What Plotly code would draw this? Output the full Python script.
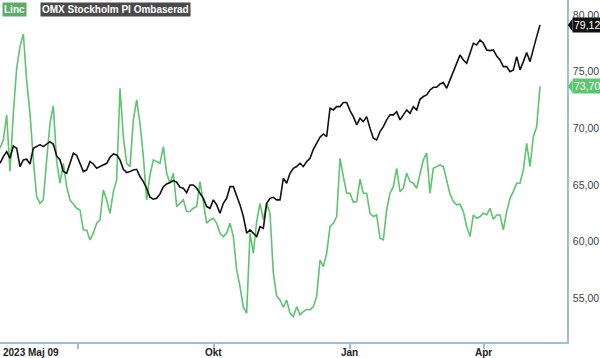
import pandas as pd
import plotly.graph_objects as go

start_date = "2023-05-09"
end_date = "2024-05-09"

omx = [66.91, 67.50, 67.94, 67.35, 68.44, 68.24, 66.62, 67.21, 67.27, 66.85,
       68.24, 68.38, 68.56, 68.38, 68.62, 68.82, 68.59, 67.56, 67.21, 66.18,
       66.03, 66.91, 67.80, 67.62, 66.91, 66.18, 66.32, 67.06, 66.85, 66.47,
       66.62, 66.80, 66.91, 67.44, 67.74, 67.65, 67.21, 66.38, 66.09, 66.18,
       66.32, 66.38, 65.74, 65.30, 64.71, 63.91, 63.74, 63.82, 64.21, 64.85,
       65.09, 65.21, 65.38, 65.24, 64.80, 64.71, 64.32, 65.00, 65.00, 64.71,
       64.27, 63.82, 63.09, 62.94, 63.68, 63.24, 62.50, 63.38, 63.82, 64.85,
       64.85, 64.12, 63.24, 62.21, 60.74, 61.03, 60.74, 60.44, 61.32, 61.18,
       63.38, 63.82, 63.91, 63.68, 63.68, 65.59, 65.15, 66.03, 66.47, 66.62,
       66.91, 66.62, 67.06, 67.35, 68.15, 68.74, 69.21, 69.50, 69.27, 71.77,
       71.62, 71.91, 71.91, 72.27, 72.27, 71.56, 71.03, 70.30, 70.88, 70.59,
       71.03, 70.00, 69.12, 68.97, 69.71, 70.15, 70.74, 71.18, 71.18, 71.47,
       70.74, 71.18, 71.62, 71.32, 71.91, 71.62, 72.56, 72.80, 72.94, 73.38,
       73.62, 73.62, 73.91, 74.03, 73.53, 74.27, 75.00, 75.88, 76.47, 76.03,
       75.73, 76.62, 77.50, 77.35, 77.79, 77.50, 76.91, 76.85, 76.91, 76.38,
       76.03, 75.44, 75.44, 75.00, 75.15, 76.32, 75.15, 75.88, 76.68, 75.88,
       77.06, 78.09, 79.12]

linc = [68.24, 68.97, 71.18, 66.18, 71.32, 75.29, 77.21, 78.32, 74.21, 71.32,
        67.21, 63.97, 63.38, 63.68, 67.21, 70.44, 71.97, 67.06, 65.15, 66.91,
        64.85, 63.68, 63.32, 62.94, 62.79, 61.03, 61.03, 60.15, 60.74, 61.62,
        61.91, 64.56, 63.68, 62.50, 64.41, 65.44, 73.53, 69.27, 66.91, 66.62,
        70.74, 72.50, 70.44, 67.50, 63.68, 65.88, 67.21, 67.06, 66.91, 68.38,
        66.03, 65.15, 66.03, 63.09, 63.38, 63.68, 62.65, 62.65, 62.94, 63.09,
        65.30, 63.38, 61.62, 61.91, 62.06, 61.62, 60.74, 60.44, 60.74, 61.62,
        60.44, 57.50, 56.03, 54.21, 53.68, 60.74, 58.97, 61.77, 63.38, 61.91,
        63.38, 62.50, 57.21, 55.21, 54.85, 54.21, 54.85, 53.68, 53.38, 54.26,
        53.53, 53.82, 54.03, 53.97, 54.26, 55.15, 58.38, 57.79, 58.97, 61.32,
        61.62, 62.21, 67.35, 65.74, 64.27, 64.27, 63.47, 63.53, 65.50, 64.27,
        64.27, 62.50, 62.21, 62.35, 60.29, 60.15, 62.79, 64.27, 64.85, 66.47,
        64.41, 64.71, 66.03, 65.30, 65.15, 64.71, 66.03, 67.21, 67.80, 64.27,
        66.47, 66.62, 66.76, 66.62, 65.44, 64.21, 63.53, 63.24, 63.30, 62.65,
        61.32, 60.44, 62.35, 62.06, 62.21, 62.50, 62.35, 62.94, 61.97, 62.35,
        62.35, 61.03, 62.65, 63.82, 64.41, 65.15, 65.15, 66.32, 68.68, 66.62,
        69.26, 70.15, 73.70]

dates = pd.date_range(start_date, end_date, periods=len(omx))

x_tickvals = ["2023-07-01", "2023-10-01", "2024-01-01", "2024-04-01"]
x_ticktext = ["", "Okt", "Jan", "Apr"]
y_tickvals = [55, 60, 65, 70, 75, 80]

GREEN = "#5ec46f"
AXIS = "#9dc0d6"
FONT = "Liberation Sans, Arial, sans-serif"

fig = go.Figure()
fig.add_trace(go.Scatter(x=dates, y=linc, mode="lines", name="Linc",
                         line=dict(color=GREEN, width=1.6), hoverinfo="skip"))
fig.add_trace(go.Scatter(x=dates, y=omx, mode="lines", name="OMX",
                         line=dict(color="#111111", width=1.6), hoverinfo="skip"))

fig.update_layout(
    width=600, height=358,
    margin=dict(l=0, r=33, t=0, b=16, autoexpand=False),
    paper_bgcolor="white", plot_bgcolor="white",
    showlegend=False,
    separators=",.",
    font=dict(family=FONT),
    xaxis=dict(
        range=["2023-05-09", "2024-05-27 07:00"],
        tickvals=x_tickvals, ticktext=["" for _ in x_tickvals],
        showgrid=False, zeroline=False,
        showline=True, linecolor=AXIS, linewidth=1.5,
        ticks="outside", ticklen=5, tickcolor=AXIS, tickwidth=1.5,
    ),
    yaxis=dict(
        range=[51.14, 81.32], side="right",
        tickvals=y_tickvals, tickformat=".2f",
        showgrid=False, zeroline=False,
        showline=True, linecolor=AXIS, linewidth=1.5, mirror=False,
        ticks="outside", ticklen=2, tickcolor="rgba(0,0,0,0)",
        tickfont=dict(size=10.5, color="#444444", family=FONT),
    ),
)

# x tick labels as annotations (placed like the reference)
for tv, tt in zip(x_tickvals, x_ticktext):
    if tt:
        fig.add_annotation(x=tv, y=0, xref="x", yref="paper", xanchor="center", yanchor="top",
                           yshift=-3, showarrow=False, text=tt,
                           font=dict(size=10, color="#222222", family=FONT, weight="bold"))

# left-bottom start-date label
fig.add_annotation(x=0, y=0, xref="paper", yref="paper", xanchor="left", yanchor="top",
                   xshift=1, yshift=-3, showarrow=False, text="2023 Maj 09",
                   font=dict(size=10, color="#222222", family=FONT, weight="bold"))

# legend boxes
fig.add_annotation(x=0, y=1, xref="paper", yref="paper", xanchor="left", yanchor="top",
                   xshift=2, yshift=-2, showarrow=False, text="Linc",
                   bgcolor="#5aad68", borderpad=1,
                   font=dict(size=10, color="white", family=FONT, weight="bold"))
fig.add_annotation(x=0, y=1, xref="paper", yref="paper", xanchor="left", yanchor="top",
                   xshift=40, yshift=-2, showarrow=False, text="OMX Stockholm PI Ombaserad",
                   bgcolor="#4a4a4a", borderpad=1,
                   font=dict(size=10, color="white", family=FONT, weight="bold"))

# last-value labels
for val, col in [(omx[-1], "#111111"), (linc[-1], GREEN)]:
    fig.add_annotation(x=1, y=val, xref="paper", yref="y", xanchor="left", yanchor="middle",
                       xshift=5, showarrow=False, text=f"{val:.2f}".replace(".", ","),
                       bgcolor=col, borderpad=1,
                       font=dict(size=10.5, color="white", family=FONT))
    fig.add_shape(type="path", xref="paper", yref="y",
                  path=f"M 1.0015,{val} L 1.0095,{val + 0.55} L 1.0095,{val - 0.55} Z",
                  fillcolor=col, line=dict(width=0))

fig.write_html("out.html", config={"displayModeBar": False},
               post_script="document.body.style.margin='0';document.body.style.overflow='hidden';")
